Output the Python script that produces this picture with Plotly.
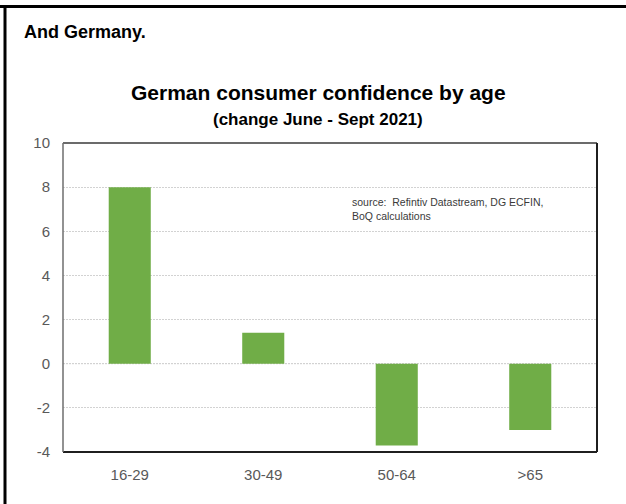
import plotly.graph_objects as go

# Change in German consumer confidence, June to September 2021, by age group
age_groups = ["16-29", "30-49", "50-64", ">65"]
confidence_change = [8.0, 1.4, -3.7, -3.0]

y_ticks = [-4, -2, 0, 2, 4, 6, 8, 10]

W, H = 626, 504
L, R, T, B = 63, 29, 143, 52
PW, PH = W - L - R, H - T - B

FONT = "Liberation Sans, Arial, sans-serif"
GREEN = "#70AD47"
TICK_GREY = "#595959"
GRID_GREY = "#d2d2d2"
GRID_DASH = "2px,1px"


def px_x(px):
    """Horizontal pixel position -> paper coordinate."""
    return (px - L) / PW


def px_y(py):
    """Vertical pixel position (from top) -> paper coordinate."""
    return (H - B - py) / PH


fig = go.Figure(
    go.Bar(
        x=age_groups,
        y=confidence_change,
        marker=dict(color=GREEN, line=dict(width=0)),
        width=0.315,
        hoverinfo="x+y",
    )
)

fig.update_layout(
    width=W,
    height=H,
    margin=dict(l=L, r=R, t=T, b=B, pad=0),
    paper_bgcolor="white",
    plot_bgcolor="white",
    showlegend=False,
    font=dict(family=FONT, color=TICK_GREY),
)

fig.update_xaxes(
    showgrid=False,
    zeroline=False,
    showline=False,
    ticks="",
    tickfont=dict(size=15, color=TICK_GREY),
    ticklabelstandoff=12,
)

fig.update_yaxes(
    range=[-4, 10],
    tickvals=y_ticks,
    ticktext=[str(v) for v in y_ticks],
    showgrid=True,
    gridcolor=GRID_GREY,
    griddash=GRID_DASH,
    gridwidth=1,
    zeroline=False,
    showline=False,
    ticks="",
    tickfont=dict(size=15, color=TICK_GREY),
    ticklabelstandoff=12,
)

# Dotted zero line drawn like the other gridlines
fig.add_shape(type="line", xref="paper", yref="y", x0=0, x1=1, y0=0, y1=0,
              line=dict(color=GRID_GREY, width=1, dash=GRID_DASH), layer="below")

# Plot frame: grey left axis, dark top/right/bottom edges
frame_dark = dict(color="#1f1f1f", width=2)
fig.add_shape(type="line", xref="paper", yref="paper", x0=0, x1=1, y0=1, y1=1,
              line=dict(color="#3a3a3a", width=1.5))
fig.add_shape(type="line", xref="paper", yref="paper", x0=1, x1=1, y0=0, y1=1,
              line=frame_dark)
fig.add_shape(type="line", xref="paper", yref="paper", x0=0, x1=1, y0=0, y1=0,
              line=frame_dark)
fig.add_shape(type="line", xref="paper", yref="paper", x0=0, x1=0, y0=0, y1=1,
              line=dict(color="#6e6e6e", width=1.5))

# Outer slide border (top and left edges)
fig.add_shape(type="line", xref="paper", yref="paper",
              x0=px_x(0), x1=px_x(W), y0=px_y(6.5), y1=px_y(6.5),
              line=dict(color="black", width=3))
fig.add_shape(type="line", xref="paper", yref="paper",
              x0=px_x(5), x1=px_x(5), y0=px_y(5), y1=px_y(H),
              line=dict(color="black", width=3))

# Heading text
fig.add_annotation(text="<b>And Germany.</b>", xref="paper", yref="paper",
                   x=px_x(22), y=px_y(32), xanchor="left", yanchor="middle",
                   showarrow=False, font=dict(family=FONT, size=18, color="black"))

fig.add_annotation(text="<b>German consumer confidence by age</b>", xref="paper", yref="paper",
                   x=px_x(318), y=px_y(92), xanchor="center", yanchor="middle",
                   showarrow=False, font=dict(family=FONT, size=21, color="black"))

fig.add_annotation(text="<b>(change June - Sept 2021)</b>", xref="paper", yref="paper",
                   x=px_x(318), y=px_y(119), xanchor="center", yanchor="middle",
                   showarrow=False, font=dict(family=FONT, size=17, color="black"))

fig.add_annotation(text="source:  Refintiv Datastream, DG ECFIN,<br>BoQ calculations",
                   xref="paper", yref="paper",
                   x=px_x(350), y=px_y(194), xanchor="left", yanchor="top",
                   align="left", showarrow=False,
                   font=dict(family=FONT, size=10.5, color="#3a3a3a"))

fig.write_html("out.html")
